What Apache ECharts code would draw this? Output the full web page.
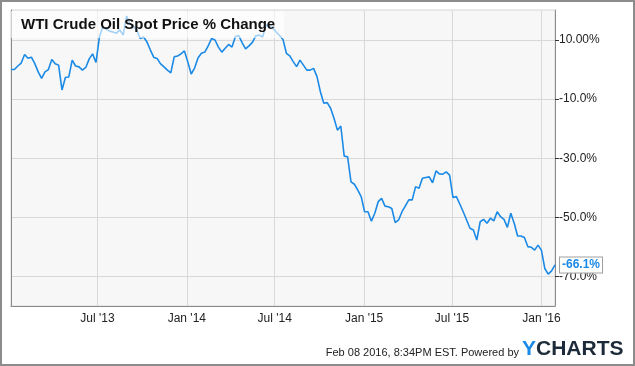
<!DOCTYPE html>
<html>
<head>
<meta charset="utf-8">
<script src="https://cdn.jsdelivr.net/npm/echarts@6/dist/echarts.min.js"></script>
<style>
html,body{margin:0;padding:0;background:#fff;}
#c{width:635px;height:366px;}
</style>
</head>
<body>
<div id="c"></div>
<script>
// ---- data ----
const titleText = 'WTI Crude Oil Spot Price % Change';
const firstWeek = '2013-01-04';     // weekly observations
const weekStepDays = 7;
const pctChange = [
  0, 0, 1.2, 2.2, 5.1, 3.8, 4.2, 2.0, -0.8, -3.0,
  -0.8, 0.0, 3.4, 2.0, 1.5, -6.9, -2.7, -2.5, 3.2, 1.2,
  0.9, -0.2, 0.7, 3.6, 5.3, 2.4, 11.0, 14.5, 13.6, 13.0,
  12.7, 12.3, 13.4, 11.7, 18.1, 15.4, 14.7, 13.4, 10.5, 11.0,
  9.3, 6.6, 4.1, 3.7, 1.9, 0.9, -0.2, -1.1, 4.3, 4.6,
  5.3, 6.3, 2.6, -1.5, 0.5, 3.9, 5.5, 5.9, 8.0, 10.5,
  10.0, 7.6, 5.9, 7.2, 8.5, 7.6, 11.2, 11.5, 9.0, 7.0,
  8.0, 9.2, 11.4, 11.7, 11.0, 15.1, 14.7, 14.1, 12.7, 11.5,
  10.2, 5.5, 4.6, 2.7, 1.0, 3.2, 1.5, -0.2, -0.2, 0.4,
  -2.4, -7.5, -11.4, -11.2, -13.1, -16.5, -20.5, -19.1, -29.3, -29.5,
  -38.0, -38.8, -40.8, -43.0, -48.1, -48.1, -51.3, -48.6, -44.7, -43.6,
  -46.2, -46.4, -47.0, -51.8, -50.9, -48.1, -46.1, -44.1, -44.1, -39.6,
  -40.2, -36.8, -36.5, -36.3, -38.3, -34.3, -35.3, -35.4, -34.6, -35.7,
  -43.3, -43.0, -45.5, -48.1, -50.9, -53.7, -54.3, -57.7, -51.5, -50.7,
  -52.0, -50.3, -51.2, -48.1, -49.8, -50.7, -53.4, -48.6, -52.0, -56.3,
  -56.3, -56.8, -59.9, -60.1, -61.1, -59.4, -61.1, -67.3, -69.2, -68.1,
  -66.1
];
const xTickDates = ['2013-07-01', '2014-01-01', '2014-07-01', '2015-01-01', '2015-07-01', '2016-01-01'];
const xTickLabels = ["Jul '13", "Jan '14", "Jul '14", "Jan '15", "Jul '15", "Jan '16"];
const yTickValues = [10, -10, -30, -50, -70];
const yTickLabels = ['10.00%', '-10.0%', '-30.0%', '-50.0%', '-70.0%'];
const footerText = 'Feb 08 2016, 8:34PM EST. Powered by';

// ---- build ----
const DAY = 86400000;
const t0 = Date.parse(firstWeek + 'T00:00:00Z');
const seriesData = pctChange.map((v, i) => [t0 + i * weekStepDays * DAY, v]);
const xTickTimes = xTickDates.map(d => Date.parse(d + 'T00:00:00Z'));
const FONT = '"Liberation Sans", Arial, Helvetica, sans-serif';

const chart = echarts.init(document.getElementById('c'), null, {renderer: 'canvas'});
chart.setOption({
  animation: false,
  backgroundColor: '#ffffff',
  title: {
    text: titleText,
    left: 11, top: 11,
    padding: [6, 9, 6, 10],
    backgroundColor: 'rgba(255,255,255,0.6)',
    textStyle: {fontFamily: FONT, fontSize: 15, fontWeight: 'bold', color: '#111'}
  },
  grid: {
    left: 11, right: 80, top: 10, bottom: 60,
    show: true, backgroundColor: '#f7f7f7', borderColor: '#d6d6d6', borderWidth: 1
  },
  xAxis: {
    type: 'value',
    min: seriesData[0][0],
    max: seriesData[seriesData.length - 1][0],
    axisLine: {show: true, onZero: false, lineStyle: {color: '#8a8a8a', width: 1}},
    axisTick: {show: false, customValues: xTickTimes},
    splitLine: {show: true, lineStyle: {color: '#d8d8d8', width: 1}},
    axisLabel: {
      customValues: xTickTimes,
      margin: 7,
      fontFamily: FONT, fontSize: 12, color: '#222',
      formatter: v => xTickLabels[xTickTimes.indexOf(v)] || ''
    }
  },
  yAxis: [{
    type: 'value',
    position: 'right',
    min: -80, max: 20.15,
    axisLine: {show: true, onZero: false, lineStyle: {color: '#8a8a8a', width: 1}},
    axisTick: {show: true, length: 4, customValues: yTickValues, lineStyle: {color: '#333'}},
    splitLine: {show: true, lineStyle: {color: '#d8d8d8', width: 1}},
    axisLabel: {
      customValues: yTickValues,
      margin: 4,
      fontFamily: FONT, fontSize: 12, color: '#222',
      formatter: v => yTickLabels[yTickValues.indexOf(v)] || ''
    }
  }, {
    type: 'value',
    position: 'left',
    min: -80, max: 20.15,
    axisLine: {show: true, onZero: false, lineStyle: {color: '#8a8a8a', width: 1}},
    axisTick: {show: false},
    axisLabel: {show: false},
    splitLine: {show: false}
  }],
  series: [{
    type: 'line',
    yAxisIndex: 0,
    data: seriesData,
    showSymbol: false,
    symbol: 'none',
    lineStyle: {color: '#1b8ae6', width: 1.6},
    endLabel: {
      show: true,
      formatter: p => p.value[1].toFixed(1) + '%',
      color: '#1b8ae6', fontFamily: FONT, fontSize: 12, fontWeight: 'bold',
      backgroundColor: '#fff', borderColor: '#a0a0a0', borderWidth: 1,
      padding: [2, 2, 1, 2], distance: 5
    }
  }],
  graphic: [
    {type: 'rect', shape: {x: 1, y: 1, width: 633, height: 364},
     style: {fill: 'none', stroke: '#8c8c8c', lineWidth: 2}, silent: true},
    {type: 'text', x: 519, y: 358,
     style: {text: footerText, fontFamily: FONT, fontSize: 11, fill: '#222', textAlign: 'right', textVerticalAlign: 'bottom'}},
    {type: 'text', x: 522, y: 360,
     style: {text: 'Y', fontFamily: FONT, fontSize: 21, fontWeight: 'bold', fill: '#1b8ae6', textAlign: 'left', textVerticalAlign: 'bottom'}},
    {type: 'text', x: 536, y: 360,
     style: {text: 'CHARTS', fontFamily: FONT, fontSize: 21, fontWeight: 'bold', fill: '#1d2a3a', textAlign: 'left', textVerticalAlign: 'bottom'}}
  ]
});
</script>
</body>
</html>
